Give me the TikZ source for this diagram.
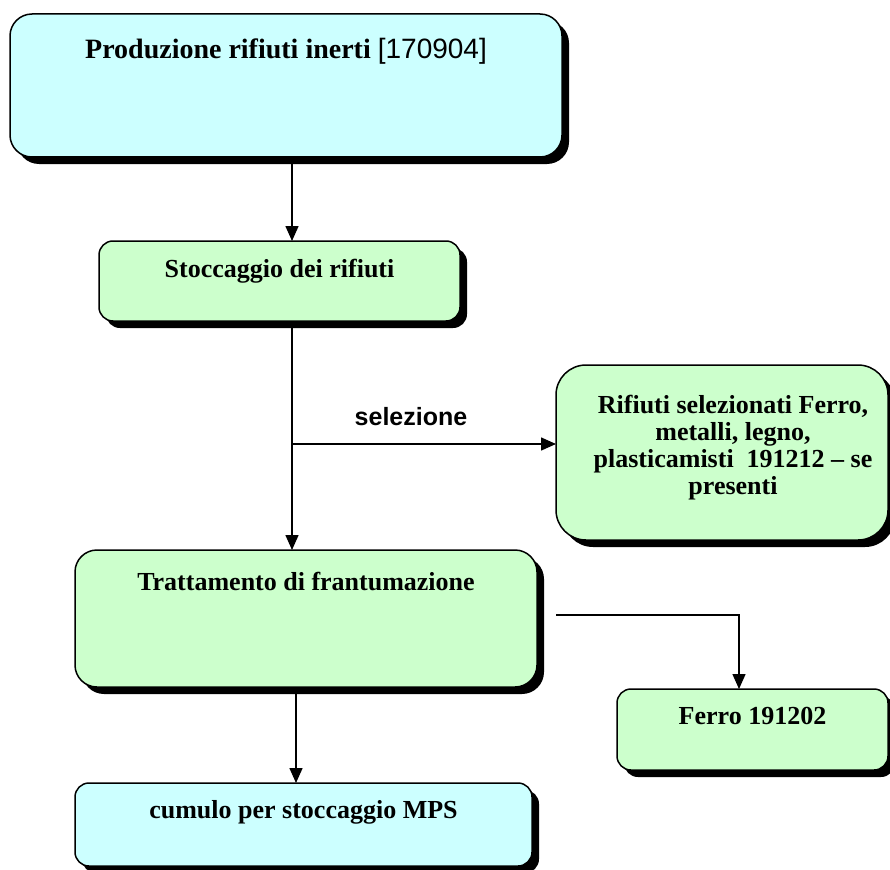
\documentclass[tikz,border=0pt]{standalone}
\usepackage{fontspec}
\setmainfont{Liberation Serif}
\setsansfont{Liberation Sans}
\usetikzlibrary{arrows.meta,shadows}
\definecolor{cyanfill}{HTML}{CCFFFF}
\definecolor{greenfill}{HTML}{CCFFCC}
\newcommand{\boxfont}{\fontsize{26}{27}\selectfont\bfseries}
\tikzset{
	box/.style = {draw, line width = 1.5pt, anchor = north west, inner sep = 0, outer sep = 0,
		drop shadow = {shadow xshift = 7pt, shadow yshift = -7pt, opacity = 1, fill = black}},
	cyanbox/.style = {box, fill = cyanfill},
	greenbox/.style = {box, fill = greenfill},
	caption/.style 2 args = {
		label = {
			[anchor = north,
			inner sep = 0,
			align = center,
			font = \boxfont,
			#1]
			north:#2}},
	flow/.style = {line width = 1.5pt, -{Triangle[length = 15pt, width = 13pt]}},
}

\begin{document}
\begin{tikzpicture}[x = 1pt, y = -1pt]
\useasboundingbox (0,0) rectangle (890,869);
% boxes, placed by their top left corner
\node[cyanbox, rounded corners = 22pt, minimum width = 552pt, minimum height = 143pt,
	caption = {yshift = -24pt, font = \fontsize{28}{30}\selectfont}{\textbf{Produzione rifiuti inerti} \textsf{[170904]}}]
	(prod) at (10,14) {};
\node[greenbox, rounded corners = 14pt, minimum width = 361pt, minimum height = 80pt,
	caption = {yshift = -18pt}{Stoccaggio dei rifiuti}]
	(stock) at (99,241) {};
\node[greenbox, rounded corners = 30pt, minimum width = 332pt, minimum height = 175pt,
	caption = {yshift = -30pt, xshift = 11pt}{Rifiuti selezionati Ferro,\\metalli, legno,\\plasticamisti\ \ 191212 – se\\presenti}]
	(sel) at (556,365) {};
\node[greenbox, rounded corners = 22pt, minimum width = 462pt, minimum height = 137pt,
	caption = {yshift = -22pt}{Trattamento di frantumazione}]
	(treat) at (75,550) {};
\node[greenbox, rounded corners = 14pt, minimum width = 271pt, minimum height = 81pt,
	caption = {yshift = -18pt}{Ferro 191202}]
	(ferro) at (617,689) {};
\node[cyanbox, rounded corners = 14pt, minimum width = 457pt, minimum height = 83pt,
	caption = {yshift = -17pt}{cumulo per stoccaggio MPS}]
	(mps) at (75,783) {};

\coordinate (split) at (292,444);
\coordinate (tap) at (556,615);
\coordinate (bend) at (739,615);
\coordinate (drop) at (296,740);
\node[font = \fontsize{25}{27}\selectfont\sffamily\bfseries, anchor = base] (sellabel) at (411,425) {selezione};

% connectors
\draw[flow] (prod.south -| split) -- (stock.north -| split);
\draw[line width = 1.5pt] (stock.south -| split) -- (split);
\draw[flow] (split) -- (sel.west |- split);
\draw[flow] (split) -- (treat.north -| split);
\draw[flow] (tap) -- (bend) -- (bend |- ferro.north);
\draw[flow] (treat.south -| drop) -- (mps.north -| drop);
\end{tikzpicture}
\end{document}
